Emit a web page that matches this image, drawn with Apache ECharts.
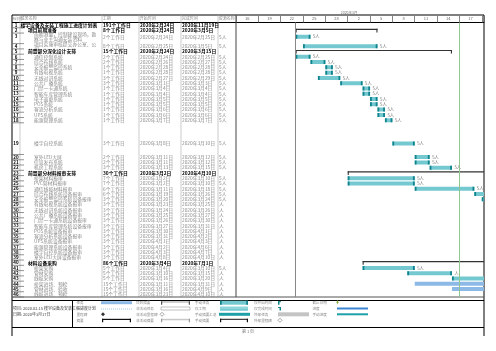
<!DOCTYPE html>
<html>
<head>
<meta charset="utf-8">
<script src="https://cdn.jsdelivr.net/npm/echarts@6/dist/echarts.min.js"></script>
<style>
  html, body { margin: 0; padding: 0; background: #fff; }
  #main { width: 496px; height: 351px; }
</style>
</head>
<body>
<div id="main"></div>
<script>
// ---- 任务数据 ----
var taskNames = [
  '楼宇设备及安装工程施工进度计划表', '项目前期准备', '前期测量，控制建设现场，勘察与业主沟通安装资料',
  '项目实施审核提交办公室、公司', '前置部分深化设计安排', '通信控制系统', '综合布线系统',
  '安全报警监控系统', '有线电视系统', '无线对讲系统', '公共广播系统', '门禁一卡通系统',
  '智能车库管理系统', '电子巡更系统', 'POS系统', '客流分析系统', 'UPS系统', '能源管理系统',
  '楼宇自控系统', '室外LED大屏', '信息发布系统', '机房工程系统', '前置部分材料报审安排',
  '桥架材料报审', 'PVC管材料报审', '通信线缆材料报审', '综合布线系统设备报审',
  '安全报警监控系统设备报审', '有线电视系统设备报审', '无线对讲系统设备报审',
  '公共广播系统设备报审', '门禁一卡通系统设备报审', '智能车库管理系统设备报审',
  'POS系统设备报审', '客流分析系统设备报审', 'UPS系统设备报审', '能源管理系统设备报审',
  '楼宇自控系统设备报审', '室外LED大屏设备报审', '材料设备采购', '桥架采购', '管材采购',
  '线缆采购', '桥架进场、预检', '管材进场、验收', '线缆进场、预检'
];
var taskLevels = [0,1,2,2,1,2,2,2,2,2,2,2,2,2,2,2,2,2,2,2,2,2,1,2,2,2,2,2,2,2,2,2,2,2,2,2,2,2,2,1,2,2,2,2,2,2];
// summary = 摘要, manual = 手动任务, auto = 任务
var taskKinds = ['summary','summary','manual','manual','summary',
  'manual','manual','manual','manual','manual','manual','manual','manual','manual','manual','manual','manual','manual','manual','manual','manual','manual',
  'summary','manual','manual','manual','manual','manual','manual','manual','manual','manual','manual','manual','manual','manual','manual','manual','manual',
  'summary','manual','manual','manual','auto','auto','auto'];
var taskDurations = [191,8,2,8,15,2,2,1,1,3,3,1,1,1,1,1,1,1,3,2,2,3,30,7,7,6,6,3,3,3,3,3,3,3,3,3,3,3,3,86,5,5,5,15,15,15];
var taskStarts = ['2020-02-24','2020-02-24','2020-02-24','2020-02-25','2020-02-24','2020-02-24','2020-02-26',
  '2020-02-28','2020-02-28','2020-02-27','2020-03-01','2020-03-04','2020-03-04','2020-03-05','2020-03-05',
  '2020-03-06','2020-03-06','2020-03-07','2020-03-08','2020-03-11','2020-03-11','2020-03-13','2020-03-02',
  '2020-03-02','2020-03-02','2020-03-11','2020-03-19','2020-03-20','2020-03-23','2020-03-24','2020-03-25',
  '2020-03-26','2020-03-27','2020-03-30','2020-03-31','2020-04-01','2020-04-02','2020-04-03','2020-04-08',
  '2020-03-04','2020-03-04','2020-03-10','2020-03-16','2020-03-11','2020-03-16','2020-03-23'];
var taskEnds = ['2020-11-19','2020-03-05','2020-02-25','2020-03-05','2020-03-15','2020-02-25','2020-02-27',
  '2020-02-28','2020-02-28','2020-02-29','2020-03-03','2020-03-04','2020-03-04','2020-03-05','2020-03-05',
  '2020-03-06','2020-03-06','2020-03-07','2020-03-10','2020-03-12','2020-03-12','2020-03-15','2020-04-10',
  '2020-03-10','2020-03-10','2020-03-18','2020-03-26','2020-03-24','2020-03-25','2020-03-26','2020-03-27',
  '2020-03-30','2020-03-31','2020-04-01','2020-04-02','2020-04-03','2020-04-06','2020-04-07','2020-04-10',
  '2020-07-01','2020-03-10','2020-03-15','2020-03-20','2020-03-31','2020-04-09','2020-04-10'];
var taskResources = ['','','5人','5人','','5人','5人','5人','5人','5人','5人','5人','5人','5人','5人','5人','5人','5人',
  '5人','5人','5人','5人','','5人','5人','5人','5人','5人','人','人','人','人','人','人','人','人','人','人','人',
  '','5人','人','人','人','人','人'];

var headerLabels = ['标识号', '任务名称', '工期', '开始时间', '完成时间', '资源名称'];
var projectStart = '2020-02-24';
var statusDate = '2020-03-17';
var topTierLabel = '2020年3月';
var projectInfo = ['项目: 2020.02.15 楼宇设备及安装工程进度计划', '日期: 2020年3月17日'];
var legendLabels = [
  ['任务', '拆分', '里程碑', '摘要'],
  ['项目摘要', '非活动任务', '非活动里程碑', '非活动摘要'],
  ['手动任务', '仅工期', '手动摘要汇总', '手动摘要'],
  ['仅开始时间', '仅完成时间', '外部任务', '外部里程碑'],
  ['截止日期', '进度', '手动进度']
];

// ---- 布局 ----
var FONT = 'Noto Sans CJK SC';
var tallRows = { 3: 2, 19: 6 };        // 行高（行数）
var tallAnchor = { 3: 0.35, 19: 0.65 }; // 高行内文字/条形的位置
var colX = [12, 20, 102, 139, 181, 218, 236];
var indentX = [20.5, 28, 34];
var scaleOrigin = Date.UTC(2020, 1, 16);
var DAY = 86400000;

function dayNum(s) {
  var p = s.split('-');
  return (Date.UTC(+p[0], +p[1] - 1, +p[2]) - scaleOrigin) / DAY;
}
function cnDate(s) {
  var p = s.split('-');
  return +p[0] + '年' + (+p[1]) + '月' + (+p[2]) + '日';
}

var rowTop = [], rowSpan = [], u = 0;
for (var i = 0; i < taskNames.length; i++) {
  rowTop.push(u);
  rowSpan.push(tallRows[i + 1] || 1);
  u += rowSpan[i];
}
var totalUnits = u;
function rowMid(i) {
  return rowTop[i] + rowSpan[i] * (tallAnchor[i + 1] || 0.5);
}

var barData = taskNames.map(function (n, i) {
  return [dayNum(taskStarts[i]), dayNum(taskEnds[i]) + 1, rowMid(i)];
});
var rowData = taskNames.map(function (n, i) {
  return [0, rowMid(i)];
});

function renderBar(params, api) {
  var i = params.dataIndex;
  var kind = taskKinds[i];
  var a = api.coord([api.value(0), api.value(2)]);
  var b = api.coord([api.value(1), api.value(2)]);
  var y = a[1], x0 = a[0], x1 = b[0];
  var ch = [];
  if (kind === 'summary') {
    if (taskLevels[i] === 0) return;
    ch.push({ type: 'rect', shape: { x: x0, y: y - 1.6, width: x1 - x0, height: 1.1 }, style: { fill: '#333' } });
    ch.push({ type: 'rect', shape: { x: x0, y: y - 1.6, width: 1.1, height: 3.6 }, style: { fill: '#333' } });
    ch.push({ type: 'rect', shape: { x: x1 - 1.1, y: y - 1.6, width: 1.1, height: 3.6 }, style: { fill: '#333' } });
  } else if (kind === 'manual') {
    ch.push({ type: 'rect', shape: { x: x0, y: y - 2, width: x1 - x0, height: 4 }, style: { fill: '#74C9D1' } });
    ch.push({ type: 'rect', shape: { x: x0, y: y - 2, width: 1.8, height: 4 }, style: { fill: '#10838D' } });
    ch.push({ type: 'rect', shape: { x: x1 - 1.8, y: y - 2, width: 1.8, height: 4 }, style: { fill: '#10838D' } });
  } else {
    ch.push({ type: 'rect', shape: { x: x0, y: y - 2, width: x1 - x0, height: 4 }, style: { fill: '#8DB9E7' } });
  }
  if (taskResources[i]) {
    ch.push({ type: 'text', x: x1 + 2.5, y: y, style: {
      text: taskResources[i], fill: '#777', fontSize: 4.3, fontFamily: FONT, verticalAlign: 'middle' } });
  }
  return { type: 'group', children: ch };
}

function renderRow(params, api) {
  var i = params.dataIndex;
  var y = api.coord([0, api.value(1)])[1];
  var bottom = api.coord([0, rowTop[i] + rowSpan[i]])[1];
  var bold = taskKinds[i] === 'summary';
  var color = bold ? '#000' : '#8a8a8a';
  var weight = bold ? 'bold' : 'normal';
  function t(x, s, extra) {
    var st = { text: s, fill: color, fontSize: 4.8, fontFamily: FONT, fontWeight: weight, verticalAlign: 'middle' };
    for (var k in extra) st[k] = extra[k];
    return { type: 'text', x: x, y: y, style: st };
  }
  return { type: 'group', children: [
    { type: 'line', shape: { x1: colX[0], y1: bottom, x2: colX[1] + 4, y2: bottom }, style: { stroke: '#666', lineWidth: 0.7 } },
    t((colX[0] + colX[1]) / 2, String(i + 1), { align: 'center', fontWeight: 'bold', fill: '#000', fontSize: 4.5 }),
    t(indentX[taskLevels[i]], taskNames[i], { width: colX[2] - indentX[taskLevels[i]] - 1, overflow: 'break', lineHeight: 4.2 }),
    t(colX[2] + 1, taskDurations[i] + '个工作日'),
    t(colX[3] + 1, cnDate(taskStarts[i])),
    t(colX[4] + 1, cnDate(taskEnds[i])),
    t(colX[5] + 1, taskResources[i])
  ] };
}

// ---- 固定图形：表格线、表头、图例 ----
var g = [];
function line(x1, y1, x2, y2, c, w) {
  g.push({ type: 'line', silent: true, shape: { x1: x1, y1: y1, x2: x2, y2: y2 }, style: { stroke: c, lineWidth: w || 1 } });
}
function text(x, y, s, size, color, extra) {
  var st = { text: s, fontSize: size, fill: color, fontFamily: FONT, verticalAlign: 'middle' };
  for (var k in extra) st[k] = extra[k];
  g.push({ type: 'text', silent: true, x: x, y: y, style: st });
}
function rect(x, y, w, h, fill, stroke) {
  g.push({ type: 'rect', silent: true, shape: { x: x, y: y, width: w, height: h },
    style: { fill: fill, stroke: stroke || null, lineWidth: 0.6 } });
}
function diamond(x, y, fill, stroke) {
  g.push({ type: 'polygon', silent: true, shape: { points: [[x, y - 2], [x + 2, y], [x, y + 2], [x - 2, y]] },
    style: { fill: fill, stroke: stroke || null, lineWidth: 0.6 } });
}
function bracket(x1, x2, y, c, thick) {
  rect(x1, y - 1.5, x2 - x1, thick, c);
  rect(x1, y - 1.5, 1.2, 3.5, c);
  rect(x2 - 1.2, y - 1.5, 1.2, 3.5, c);
}

line(colX[0], 15, 484, 15, '#000', 1);
line(colX[0], 22.5, colX[6], 22.5, '#000', 1);
for (var c = 1; c < colX.length - 1; c++) line(colX[c], 15, colX[c], 297, '#aaa', 0.6);
line(colX[0], 15, colX[0], 336, '#000', 1);
line(colX[6], 15, colX[6], 297, '#444', 1);
line(484, 15, 484, 336, '#000', 1);
line(colX[0], 297, 484, 297, '#555', 1);
line(colX[0], 300.5, 484, 300.5, '#000', 1);
line(colX[0], 327.5, 484, 327.5, '#000', 1);
line(72.5, 300.5, 72.5, 327.5, '#000', 1);
headerLabels.forEach(function (h, k) {
  text(colX[k] + 0.8, 18.5, h, k === 0 ? 3.5 : 4, '#888');
});
text(dayNum('2020-03-01') * (248 / 33.3) + 236.5, 12.3, topTierLabel, 3.5, '#777');
text(13, 308.5, projectInfo[0], 4, '#444');
text(13, 314, projectInfo[1], 4, '#444');
text(248, 331.5, '第 1 页', 4, '#777', { align: 'center' });

var legY = [302.7, 308.5, 314.3, 320.3];
var legLX = [76.5, 136, 195, 254, 312.5];
var legSX = [101, 161, 220, 278, 337];
legendLabels.forEach(function (col, ci) {
  col.forEach(function (s, ri) { text(legLX[ci], legY[ri], s, 3.6, '#888'); });
});
// 第1列
rect(101, legY[0] - 1.5, 31, 3, '#8DB9E7');
g.push({ type: 'line', silent: true, shape: { x1: 101, y1: legY[1] + 0.5, x2: 132, y2: legY[1] + 0.5 },
  style: { stroke: '#8DB9E7', lineWidth: 0.8, lineDash: [1, 1] } });
diamond(103, legY[2], '#333');
bracket(102, 131, legY[3], '#111', 1.2);
// 第2列
rect(161, legY[0] - 1.5, 29, 1.5, '#BDBDBD'); rect(161, legY[0] - 1.5, 1.2, 3.5, '#555'); rect(188.8, legY[0] - 1.5, 1.2, 3.5, '#555');
rect(161, legY[1] - 1.5, 29, 3, '#fff', '#999');
diamond(162, legY[2], '#fff', '#666');
rect(161, legY[3] - 1.5, 29, 1.5, '#C8C8C8'); rect(161, legY[3] - 1.5, 1.2, 3.5, '#999'); rect(188.8, legY[3] - 1.5, 1.2, 3.5, '#999');
// 第3列
rect(220, legY[0] - 2, 28, 4, '#74C9D1'); rect(220, legY[0] - 2, 1.8, 4, '#10838D'); rect(246.2, legY[0] - 2, 1.8, 4, '#10838D');
rect(220, legY[1] - 2, 28, 4, '#8FD6DC'); rect(220, legY[1] + 1, 28, 1, '#5FBFC7');
rect(219, legY[2] - 1.5, 31, 3, '#1EA0A8');
bracket(220, 248, legY[3], '#111', 1);
// 第4列
rect(278, legY[0] - 1.5, 1.5, 3.5, '#10838D'); rect(278, legY[0] - 1.5, 3, 1, '#10838D');
rect(279.5, legY[1] - 1.5, 1.5, 3.5, '#10838D'); rect(278, legY[1] - 1.5, 3, 1, '#10838D');
rect(278, legY[2] - 2, 31, 4, '#C4C4C4');
diamond(280, legY[3], '#fff', '#666');
// 第5列
g.push({ type: 'polygon', silent: true, shape: { points: [[336, legY[0] - 1], [339, legY[0] - 1], [337.5, legY[0] + 1.5]] },
  style: { fill: '#8CB04A' } });
rect(337.5 - 0.5, legY[0] - 2.2, 1, 1.5, '#8CB04A');
rect(337, legY[1] - 1, 31, 2, '#3D87D2');
rect(337, legY[2] - 1, 31, 2, '#1EA0A8');

var chart = echarts.init(document.getElementById('main'));
var option = {
  animation: false,
  grid: { left: 236, top: 22.5, width: 248, height: 274.5 },
  xAxis: [
    {
      type: 'value', min: 0, max: 33.3, interval: 3, position: 'top',
      axisLine: { show: true, lineStyle: { color: '#000', width: 1 } },
      axisTick: { show: true, length: 6.5, lineStyle: { color: '#666', width: 0.8 } },
      axisLabel: { show: false }, splitLine: { show: false }
    },
    {
      type: 'value', min: -1.5, max: 31.8, interval: 1.5, position: 'top',
      axisLine: { show: false }, axisTick: { show: false }, splitLine: { show: false },
      axisLabel: {
        show: true, margin: 2, fontSize: 4, color: '#666', fontFamily: FONT,
        showMinLabel: true, showMaxLabel: false,
        formatter: function (v) {
          var r = Math.round(v);
          if (Math.abs(v - r) > 0.01 || r % 3 !== 0) return '';
          return String(new Date(scaleOrigin + r * DAY).getUTCDate());
        }
      }
    }
  ],
  yAxis: { type: 'value', min: 0, max: totalUnits, inverse: true, show: false },
  graphic: g,
  series: [
    {
      type: 'custom', name: 'gantt', xAxisIndex: 0, clip: true,
      renderItem: renderBar, data: barData,
      markLine: {
        silent: true, symbol: ['none', 'none'], label: { show: false },
        data: [
          { xAxis: dayNum(projectStart), lineStyle: { color: '#888', width: 1, type: 'solid' } },
          { xAxis: dayNum(statusDate), lineStyle: { color: '#8FC68F', width: 1, type: 'solid' } }
        ]
      }
    },
    {
      type: 'custom', name: 'table', xAxisIndex: 0, clip: false,
      renderItem: renderRow, data: rowData
    }
  ]
};
chart.setOption(option);
</script>
</body>
</html>
